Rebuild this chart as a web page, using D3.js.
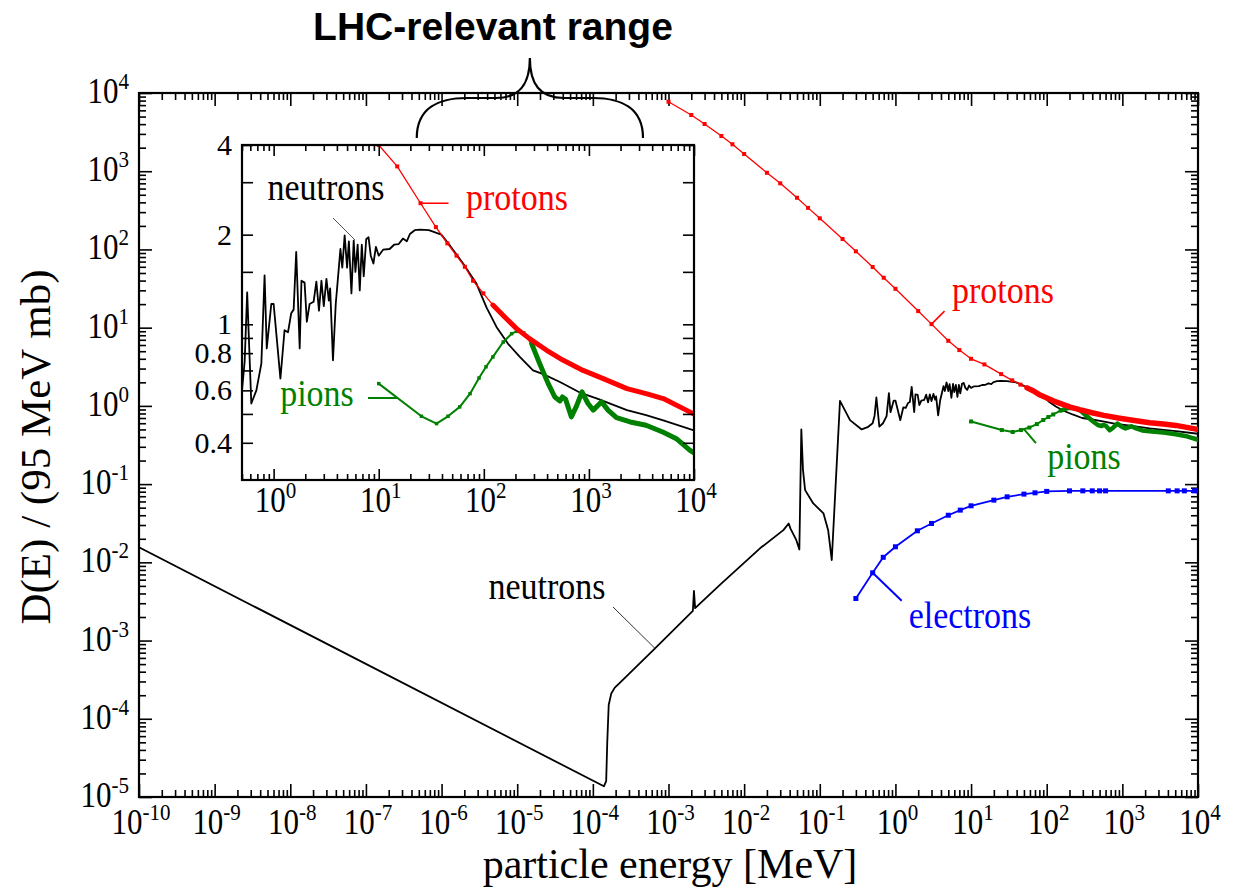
<!DOCTYPE html>
<html>
<head>
<meta charset="utf-8">
<style>
  body { margin: 0; background: #fff; }
  text { font-family: "Liberation Serif", "Times New Roman", serif; }
  .title { font-family: "Liberation Sans", Arial, sans-serif; font-weight: bold; }
</style>
</head>
<body>
<svg id="chart" width="1238" height="890"></svg>
<script src="https://d3js.org/d3.v7.min.js"></script>
<script>

// ---- data: [energy in MeV, D(E) in 95 MeV mb] ----
var neutrons = [
  [1e-10, 0.0156], [1.40e-4, 1.37e-5], [1.50e-4, 1.6e-5], [1.55e-4, 5e-5],
  [1.62e-4, 1.5e-4], [1.75e-4, 2.1e-4], [1.95e-4, 2.5e-4], [2.2e-4, 2.8e-4],
  [6.64e-4, 7.93e-4], [2.1e-3, 2.4e-3], [2.17e-3, 4.3e-3], [2.25e-3, 2.6e-3],
  [4.9e-3, 5.26e-3], [1.62e-2, 1.51e-2], [3.3e-2, 2.58e-2], [3.88e-2, 3.14e-2],
  [4.1e-2, 2.7e-2], [4.9e-2, 1.92e-2], [5.37e-2, 1.46e-2], [5.7e-2, 0.50],
  [6.0e-2, 0.151], [6.4e-2, 0.0838], [8.2e-2, 0.0566], [0.112, 0.0422],
  [0.129, 0.0258], [0.144, 0.0107], [0.185, 1.16], [0.251, 0.658],
  [0.358, 0.50], [0.437, 0.54], [0.5, 0.60], [0.53, 0.75], [0.56, 1.28],
  [0.613, 0.542], [0.685, 0.60], [0.764, 0.738], [0.82, 1.46], [0.86, 0.83],
  [0.95, 1.17], [1.0, 1.17], [1.16, 0.657], [1.27, 0.955], [1.37, 0.94],
  [1.47, 1.09], [1.55, 1.12], [1.64, 1.75], [1.77, 0.83], [1.84, 1.40],
  [1.97, 1.38], [2.07, 1.02], [2.2, 1.17], [2.4, 1.19], [2.55, 1.39],
  [2.7, 1.11], [2.85, 1.40], [3.0, 1.15], [3.18, 1.42], [3.35, 1.2],
  [3.45, 1.32], [3.67, 0.757], [3.9, 1.17], [4.1, 1.44], [4.32, 1.79],
  [4.5, 1.55], [4.74, 1.99], [5.0, 1.55], [5.2, 1.9], [5.5, 1.27],
  [5.78, 1.91], [6.0, 1.5], [6.3, 1.85], [6.6, 1.30], [6.9, 1.85],
  [7.2, 1.45], [7.6, 1.93], [8.0, 1.96], [8.4, 1.7], [8.9, 1.60],
  [9.4, 1.82], [10, 1.7], [11, 1.78], [12.7, 1.79], [14, 1.85],
  [15.5, 1.86], [17, 1.94], [18.5, 1.9], [19.8, 2.01], [22, 2.07],
  [24.6, 2.08], [30, 2.07], [39.4, 2.0], [47.5, 1.84], [63.5, 1.60],
  [85, 1.37], [106, 1.14], [132, 0.98], [170, 0.86], [220, 0.777],
  [294, 0.70], [367, 0.68], [530, 0.64], [820, 0.59], [1200, 0.563],
  [2300, 0.515], [3500, 0.495], [5100, 0.476], [1e4, 0.44]
];

var protons = [
  [1.0e-3, 7740], [2.0e-3, 5230], [3.0e-3, 4015], [5.0e-3, 2820], [7.0e-3, 2210],
  [1e-2, 1660], [2e-2, 955], [3e-2, 700], [5e-2, 458], [7e-2, 340],
  [0.1, 250], [0.2, 136], [0.3, 94.6], [0.5, 59.6], [0.7, 43.5],
  [1, 31.4], [2, 16.3], [3, 11.1], [5, 6.79], [7, 5.17],
  [10, 4.0], [15, 3.39], [25, 2.55], [35, 2.12], [45, 1.87],
  [55, 1.70], [66, 1.56], [79, 1.40], [99, 1.27], [122, 1.16],
  [153, 1.07], [205, 0.967], [272, 0.895], [396, 0.818], [570, 0.757],
  [880, 0.70], [1370, 0.657], [2300, 0.608], [3500, 0.585], [5100, 0.563],
  [9100, 0.508], [1e4, 0.50]
];

var pions = [
  [10, 0.632], [25.5, 0.491], [35.5, 0.464], [45.6, 0.491], [59, 0.528],
  [74, 0.585], [90, 0.66], [105, 0.72], [122, 0.777], [153, 0.872],
  [184, 0.93], [205, 0.947], [240, 0.935], [285, 0.861], [340, 0.738],
  [410, 0.632], [474, 0.57], [530, 0.553], [560, 0.57], [600, 0.56],
  [680, 0.489], [760, 0.53], [860, 0.593], [980, 0.542], [1100, 0.515],
  [1320, 0.549], [1520, 0.515], [1830, 0.486], [2470, 0.470], [3500, 0.458],
  [5100, 0.434], [6800, 0.413], [9100, 0.378], [1e4, 0.37]
];

var electrons = [
  [0.30, 3.45e-3], [0.50, 7.35e-3], [0.69, 1.16e-2], [1.0, 1.58e-2], [1.95, 2.53e-2],
  [3.0, 3.14e-2], [5.0, 4.0e-2], [7.2, 4.65e-2], [10, 5.28e-2], [20, 6.24e-2],
  [30, 6.88e-2], [50, 7.45e-2], [70, 7.74e-2], [100, 8.07e-2], [200, 8.2e-2],
  [300, 8.2e-2], [400, 8.2e-2], [500, 8.2e-2], [600, 8.2e-2], [4050, 8.2e-2],
  [5300, 8.2e-2], [6600, 8.2e-2], [9000, 8.2e-2], [1e4, 8.2e-2]
];

var mainXTicks = [-10, -9, -8, -7, -6, -5, -4, -3, -2, -1, 0, 1, 2, 3, 4];
var mainYTicks = [-5, -4, -3, -2, -1, 0, 1, 2, 3, 4];
var insetXTicks = [0, 1, 2, 3, 4];
var insetYLabels = [4, 2, 1, 0.8, 0.6, 0.4];
var insetYTicks = [4, 3, 2, 1.5, 1, 0.9, 0.8, 0.7, 0.6, 0.5, 0.4];

var svg = d3.select("#chart");
var VS = 1.13; // serif text in the source is drawn a bit taller than wide

var x = d3.scaleLog().domain([1e-10, 1e4]).range([139, 1198]);
var y = d3.scaleLog().domain([1e-5, 1e4]).range([797, 93]);

var xi = d3.scaleLog().domain([0.5, 1e4]).range([242, 694]);
var yi = d3.scaleLog().domain([0.3, 4]).range([480, 145]);

var defs = svg.append("defs");
defs.append("clipPath").attr("id", "clipMain").append("rect")
    .attr("x", 139).attr("y", 93).attr("width", 1059).attr("height", 704);
defs.append("clipPath").attr("id", "clipInset").append("rect")
    .attr("x", 242).attr("y", 145).attr("width", 452).attr("height", 335);

function minorTicks(lo, hi) {
  var t = [];
  for (var e = lo; e < hi; e++)
    for (var k = 2; k <= 9; k++) t.push(k * Math.pow(10, e));
  return t;
}

function stext(g, px, py, size, anchor) {
  return g.append("text")
      .attr("transform", "translate(" + px + "," + py + ") scale(1," + VS + ")")
      .attr("text-anchor", anchor).attr("font-size", size);
}

function supLabel(g, px, py, exp, anchor, size) {
  var t = stext(g, px, py, size, anchor);
  t.append("tspan").text("10");
  t.append("tspan").attr("dy", -size * 0.4).attr("font-size", size * 0.68).text(exp);
}

// ---- main frame + ticks ----
var gm = svg.append("g");

function frameTicks(g, xs, ys, xMajor, xMinor, yMajor, yMinor, lenMaj, lenMin, yLenMin) {
  var r = xs.range(), rr = ys.range();
  var x0 = r[0], x1 = r[1], yb = rr[0], yt = rr[1];
  g.append("g").attr("transform", "translate(0," + yb + ")")
      .call(d3.axisBottom(xs).tickValues(xMajor).tickSize(-lenMaj).tickSizeOuter(0).tickFormat(""));
  g.append("g").attr("transform", "translate(0," + yb + ")")
      .call(d3.axisBottom(xs).tickValues(xMinor).tickSize(-lenMin).tickSizeOuter(0).tickFormat(""));
  g.append("g").attr("transform", "translate(0," + yt + ")")
      .call(d3.axisTop(xs).tickValues(xMajor).tickSize(-lenMaj).tickSizeOuter(0).tickFormat(""));
  g.append("g").attr("transform", "translate(0," + yt + ")")
      .call(d3.axisTop(xs).tickValues(xMinor).tickSize(-lenMin).tickSizeOuter(0).tickFormat(""));
  g.append("g").attr("transform", "translate(" + x0 + ",0)")
      .call(d3.axisLeft(ys).tickValues(yMajor).tickSize(-lenMaj).tickSizeOuter(0).tickFormat(""));
  g.append("g").attr("transform", "translate(" + x0 + ",0)")
      .call(d3.axisLeft(ys).tickValues(yMinor).tickSize(-yLenMin).tickSizeOuter(0).tickFormat(""));
  g.append("g").attr("transform", "translate(" + x1 + ",0)")
      .call(d3.axisRight(ys).tickValues(yMajor).tickSize(-lenMaj).tickSizeOuter(0).tickFormat(""));
  g.append("g").attr("transform", "translate(" + x1 + ",0)")
      .call(d3.axisRight(ys).tickValues(yMinor).tickSize(-yLenMin).tickSizeOuter(0).tickFormat(""));
  g.selectAll(".domain").remove();
  g.selectAll(".tick line").attr("stroke", "#000").attr("stroke-width", 1.6);
  g.append("rect").attr("x", x0).attr("y", yt).attr("width", x1 - x0).attr("height", yb - yt)
      .attr("fill", "none").attr("stroke", "#000").attr("stroke-width", 2.2);
}

frameTicks(gm, x, y,
  mainXTicks.map(function(e) { return Math.pow(10, e); }), minorTicks(-10, 4),
  mainYTicks.map(function(e) { return Math.pow(10, e); }), minorTicks(-5, 4),
  13, 7, 7);

mainXTicks.forEach(function(e) { supLabel(gm, x(Math.pow(10, e)) + 2, 834, e, "middle", 31); });
mainYTicks.forEach(function(e) { supLabel(gm, 129, y(Math.pow(10, e)) + 10, e, "end", 31); });

gm.append("text").attr("x", 670).attr("y", 878).attr("text-anchor", "middle")
    .attr("font-size", 42).text("particle energy [MeV]");
gm.append("text").attr("transform", "translate(50,447) rotate(-90)").attr("text-anchor", "middle")
    .attr("font-size", 43).text("D(E) / (95 MeV mb)");

// ---- series drawing ----
function drawSeries(g, xs, ys, data, o) {
  var line = d3.line().x(function(d) { return xs(d[0]); }).y(function(d) { return ys(d[1]); });
  g.append("path").datum(data).attr("d", line).attr("fill", "none")
      .attr("stroke", o.color).attr("stroke-width", o.width).attr("stroke-linejoin", "round");
  if (o.thickFrom) {
    g.append("path").datum(data.filter(function(d) { return d[0] >= o.thickFrom; }))
        .attr("d", line).attr("fill", "none").attr("stroke", o.color)
        .attr("stroke-width", o.thick).attr("stroke-linejoin", "round").attr("stroke-linecap", "round");
  }
  if (o.marker) {
    g.selectAll(null)
      .data(data.filter(function(d) { return !o.thickFrom || d[0] < o.thickFrom; }))
      .enter().append("rect")
        .attr("x", function(d) { return xs(d[0]) - o.marker / 2; })
        .attr("y", function(d) { return ys(d[1]) - o.marker / 2; })
        .attr("width", o.marker).attr("height", o.marker).attr("fill", o.color);
  }
}

var gmData = gm.append("g").attr("clip-path", "url(#clipMain)");
drawSeries(gmData, x, y, neutrons, {color: "#000", width: 1.8});
drawSeries(gmData, x, y, electrons, {color: "#0000ff", width: 1.8, marker: 5});
drawSeries(gmData, x, y, pions, {color: "#008000", width: 2, marker: 4, thickFrom: 150, thick: 4.5});
drawSeries(gmData, x, y, protons, {color: "#ff0000", width: 1.3, marker: 4, thickFrom: 50, thick: 5.5});

// main annotations
function leader(g, x1, y1, x2, y2, color, w) {
  g.append("line").attr("x1", x1).attr("y1", y1).attr("x2", x2).attr("y2", y2)
      .attr("stroke", color).attr("stroke-width", w);
}
function label(g, px, py, txt, color) {
  stext(g, px, py, 34, "middle").attr("fill", color).text(txt);
}
leader(gm, x(3), y(11.1), x(3) + 13, y(11.1) - 13, "#ff0000", 1.5);
label(gm, 1003, 303, "protons", "#ff0000");
leader(gm, x(50), y(0.505), x(50) + 12, y(0.505) + 14, "#008000", 2);
label(gm, 1084, 469, "pions", "#008000");
leader(gm, x(0.5), y(7.35e-3), x(0.5) + 29, y(7.35e-3) + 28, "#0000ff", 2);
label(gm, 970, 628, "electrons", "#0000ff");
leader(gm, 613, 607, x(6.64e-4), y(7.93e-4), "#333", 1);
label(gm, 547, 599, "neutrons", "#000");

// ---- inset ----
var gi = svg.append("g");
gi.append("rect").attr("x", 242).attr("y", 145).attr("width", 452).attr("height", 335).attr("fill", "#fff");
var giData = gi.append("g").attr("clip-path", "url(#clipInset)");
drawSeries(giData, xi, yi, neutrons, {color: "#000", width: 1.8});
drawSeries(giData, xi, yi, pions, {color: "#008000", width: 2, marker: 3.5, thickFrom: 260, thick: 5});
drawSeries(giData, xi, yi, protons, {color: "#ff0000", width: 1.3, marker: 4, thickFrom: 110, thick: 5});

frameTicks(gi, xi, yi,
  insetXTicks.map(function(e) { return Math.pow(10, e); }), minorTicks(-1, 4).filter(function(v) { return v >= 0.5; }),
  insetYTicks, [],
  11, 6, 0);

insetXTicks.forEach(function(e) { supLabel(gi, xi(Math.pow(10, e)) + 2, 512, e, "middle", 31); });
insetYLabels.forEach(function(v) {
  gi.append("text").attr("x", 232).attr("y", yi(v) + 10).attr("text-anchor", "end")
      .attr("font-size", 30).text(v);
});

leader(gi, 333, 218, 355, 240, "#555", 1);
label(gi, 326, 200, "neutrons", "#000");
leader(gi, xi(25), yi(2.55), xi(25) + 28, yi(2.55), "#ff0000", 1.5);
label(gi, 517, 210, "protons", "#ff0000");
leader(gi, 368, 398, 397, 398, "#008000", 2);
label(gi, 317, 406, "pions", "#008000");

// ---- LHC brace ----
var bl = x(4.7e-7), br = x(4.6e-4), bm = x(1.47e-5);
var bBot = 138, bMid = 98, bTop = 58;
var brace = d3.path();
brace.moveTo(bl, bBot);
brace.bezierCurveTo(bl, bBot - 30, bl + 22, bMid, bl + 50, bMid);
brace.lineTo(bm - 34, bMid);
brace.bezierCurveTo(bm - 10, bMid, bm, bMid - 14, bm, bTop);
brace.bezierCurveTo(bm, bMid - 14, bm + 10, bMid, bm + 34, bMid);
brace.lineTo(br - 50, bMid);
brace.bezierCurveTo(br - 22, bMid, br, bBot - 30, br, bBot);
svg.append("path").attr("d", brace.toString()).attr("fill", "none")
    .attr("stroke", "#000").attr("stroke-width", 2.2);
svg.append("text").attr("class", "title").attr("x", 493).attr("y", 40)
    .attr("text-anchor", "middle").attr("font-size", 39).text("LHC-relevant range");

</script>
</body>
</html>
